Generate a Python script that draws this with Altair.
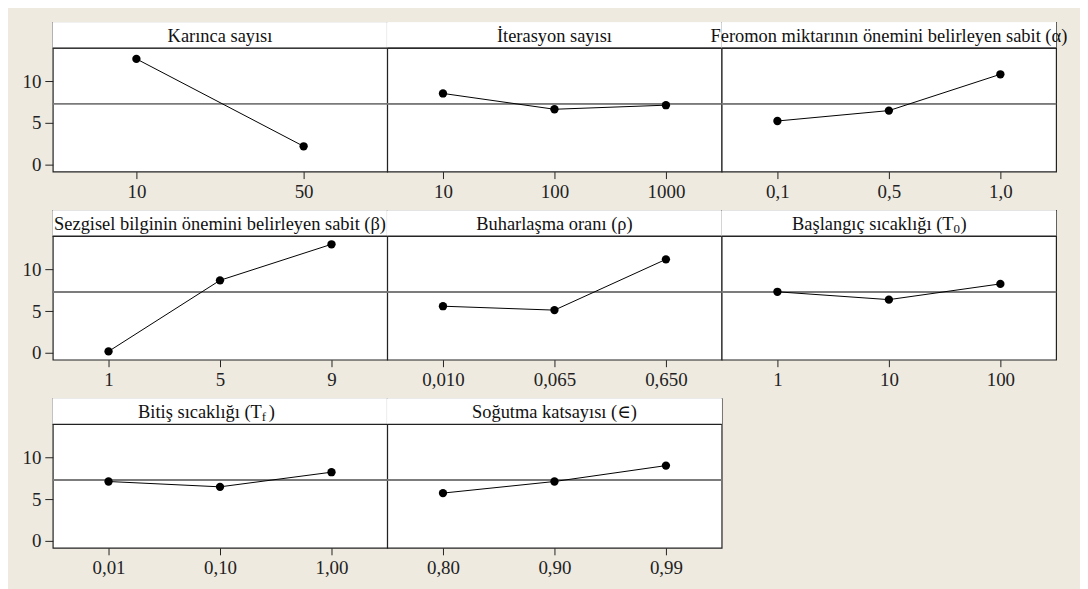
import altair as alt
import pandas as pd

# ---- data ----
titles = [
    "Karınca sayısı",
    "İterasyon sayısı",
    "Feromon miktarının önemini belirleyen sabit (α)",
    "Sezgisel bilginin önemini belirleyen sabit (β)",
    "Buharlaşma oranı (ρ)",
    "Başlangıç sıcaklığı  (T",
    "Bitiş sıcaklığı  (T",
    "Soğutma katsayısı (∈)",
]
subscripts = [None, None, None, None, None, "0", "f", None]

levels_karinca = ["10", "50"]
means_karinca = [12.7, 2.2]

levels_iter = ["10", "100", "1000"]
means_iter = [8.55, 6.65, 7.14]

levels_alpha = ["0,1", "0,5", "1,0"]
means_alpha = [5.24, 6.49, 10.85]

levels_beta = ["1", "5", "9"]
means_beta = [0.16, 8.7, 13.03]

levels_rho = ["0,010", "0,065", "0,650"]
means_rho = [5.59, 5.12, 11.22]

levels_t0 = ["1", "10", "100"]
means_t0 = [7.32, 6.38, 8.27]

levels_tf = ["0,01", "0,10", "1,00"]
means_tf = [7.13, 6.49, 8.25]

levels_eps = ["0,80", "0,90", "0,99"]
means_eps = [5.74, 7.13, 9.04]

grand_mean = [7.3]
y_ticks = [0, 5, 10]

# ---- styling ----
W = 336
H = 150
STRIP = 26
FONT = "Liberation Serif, Times New Roman, DejaVu Serif, serif"
BG = "#EEEAE0"
Y_DOMAIN = [-0.84, 17.1]
TFS = 18.5
SUB_X = {5: W / 2 + 65, 6: W / 2 + 42}


def panel(idx, levels, means, show_y):
    df = pd.DataFrame({"level": levels, "mean": means, "gm": grand_mean * len(levels)})
    x = alt.X(
        "level:N",
        sort=levels,
        scale=alt.Scale(type="point", padding=0.5),
        axis=alt.Axis(
            title=None, labelAngle=0, tickSize=7, labelPadding=4,
            labelFont=FONT, labelFontSize=19, labelColor="#222",
            tickColor="#222", domain=False, grid=False,
            minExtent=30, maxExtent=30,
        ),
    )
    if show_y:
        yaxis = alt.Axis(
            title=None, values=y_ticks, tickSize=8, labelPadding=4,
            labelFont=FONT, labelFontSize=19, labelColor="#222",
            tickColor="#222", domain=False, grid=False,
            minExtent=32, maxExtent=32,
        )
    else:
        yaxis = alt.Axis(
            title=None, labels=False, ticks=False, domain=False, grid=False,
            minExtent=0, maxExtent=0,
        )
    yscale = alt.Scale(domain=Y_DOMAIN, nice=False, zero=False)

    base = alt.Chart(df).encode(x=x, y=alt.Y("mean:Q", scale=yscale, axis=yaxis))
    gm = alt.Chart(df).mark_rule(color="#7a7a7a", strokeWidth=1.5).encode(
        y=alt.Y("gm:Q", scale=yscale, axis=yaxis)
    )
    line = base.mark_line(color="black", strokeWidth=1)
    pts = base.mark_circle(color="black", size=70, opacity=1)

    strip_bg = alt.Chart(df).mark_rect(color="white").encode(
        x=alt.value(0), x2=alt.value(W), y=alt.value(0), y2=alt.value(STRIP)
    )
    strip_line = alt.Chart(df).mark_rule(color="#222", strokeWidth=1).encode(
        x=alt.value(0), x2=alt.value(W), y=alt.value(STRIP)
    )

    layers = [gm, strip_bg, strip_line, line, pts]
    tdf = pd.DataFrame({"t": [titles[idx]]})
    sub = subscripts[idx]
    if sub is None:
        title = alt.Chart(tdf).mark_text(
            font=FONT, fontSize=TFS, color="#111", align="center", baseline="middle"
        ).encode(x=alt.value(W / 2), y=alt.value(STRIP / 2 + 1), text="t:N")
        layers.append(title)
    else:
        cx = SUB_X[idx]
        main = alt.Chart(tdf).mark_text(
            font=FONT, fontSize=TFS, color="#111", align="right", baseline="middle"
        ).encode(x=alt.value(cx), y=alt.value(STRIP / 2 + 1), text="t:N")
        sdf = pd.DataFrame({"s": [sub]})
        subm = alt.Chart(sdf).mark_text(
            font=FONT, fontSize=13, color="#111", align="left", baseline="middle"
        ).encode(x=alt.value(cx), y=alt.value(STRIP / 2 + 6), text="s:N")
        cdf = pd.DataFrame({"c": [")"]})
        close = alt.Chart(cdf).mark_text(
            font=FONT, fontSize=TFS, color="#111", align="left", baseline="middle"
        ).encode(x=alt.value(cx + 7), y=alt.value(STRIP / 2 + 1), text="c:N")
        layers += [main, subm, close]

    return alt.layer(*layers).properties(width=W, height=H)


p1 = panel(0, levels_karinca, means_karinca, True)
p2 = panel(1, levels_iter, means_iter, False)
p3 = panel(2, levels_alpha, means_alpha, False)
p4 = panel(3, levels_beta, means_beta, True)
p5 = panel(4, levels_rho, means_rho, False)
p6 = panel(5, levels_t0, means_t0, False)
p7 = panel(6, levels_tf, means_tf, True)
p8 = panel(7, levels_eps, means_eps, False)

row1 = alt.hconcat(p1, p2, p3, spacing=0, bounds="flush")
row2 = alt.hconcat(p4, p5, p6, spacing=0, bounds="flush")
row3 = alt.hconcat(p7, p8, spacing=0, bounds="flush")

chart = alt.vconcat(row1, row2, row3, spacing=7).properties(
    background=BG,
    padding={"left": 12, "top": 12, "right": 12, "bottom": 12},
).configure_view(
    stroke="#222", strokeWidth=1.2, fill="white"
)

chart.save("out.html", embed_options={"renderer": "svg", "actions": False})
